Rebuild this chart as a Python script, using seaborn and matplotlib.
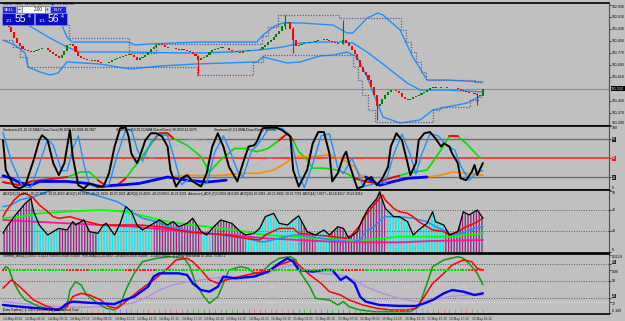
import matplotlib
matplotlib.use("Agg")
import matplotlib.pyplot as plt
from matplotlib.patches import Rectangle
import seaborn as sns

sns.set_theme(style="white")
plt.rcParams["font.family"] = ["Liberation Sans", "DejaVu Sans"]
plt.rcParams["hatch.linewidth"] = 0.9

BG = "#c0c0c0"
W, H = 625, 321
XMIN, XMAX = -1.075, 217.2

# ---------------- price panel data (USDJPY M15, one value per bar) ----------------
closes = [
    101.990, 101.970, 101.943, 101.910, 101.870, 101.836, 101.816, 101.796, 101.790, 101.783,
    101.776, 101.783, 101.790, 101.796, 101.803, 101.800, 101.790, 101.776, 101.763, 101.750,
    101.736, 101.756, 101.783, 101.823, 101.830, 101.816, 101.776, 101.750, 101.736, 101.730,
    101.723, 101.726, 101.716, 101.720, 101.710, 101.706, 101.703, 101.700, 101.710, 101.723,
    101.730, 101.736, 101.743, 101.750, 101.756, 101.763, 101.756, 101.743, 101.723, 101.736,
    101.743, 101.756, 101.776, 101.796, 101.810, 101.823, 101.830, 101.823, 101.810, 101.806,
    101.803, 101.800, 101.796, 101.790, 101.793, 101.788, 101.783, 101.776, 101.763, 101.750,
    101.723, 101.736, 101.743, 101.756, 101.776, 101.790, 101.796, 101.803, 101.810, 101.803,
    101.800, 101.790, 101.786, 101.783, 101.776, 101.773, 101.783, 101.786, 101.790, 101.788,
    101.791, 101.789, 101.796, 101.810, 101.823, 101.843, 101.856, 101.876, 101.896, 101.916,
    101.950, 101.970, 101.976, 101.930, 101.856, 101.816, 101.823, 101.830, 101.836, 101.838,
    101.843, 101.840, 101.850, 101.856, 101.858, 101.863, 101.856, 101.850, 101.843, 101.836,
    101.830, 101.828, 101.856, 101.836, 101.816, 101.790, 101.763, 101.723, 101.676, 101.643,
    101.623, 101.590, 101.543, 101.490, 101.416, 101.430, 101.463, 101.490, 101.510, 101.523,
    101.520, 101.516, 101.503, 101.476, 101.463, 101.456, 101.463, 101.476, 101.483, 101.490,
    101.503, 101.510, 101.523, 101.536, 101.543, 101.536, 101.538, 101.543, 101.541, 101.536,
    101.534, 101.537, 101.535, 101.530, 101.523, 101.516, 101.510, 101.503, 101.506, 101.496,
    101.490, 101.483, 101.532,
]
first_open = 102.010
wick_bars = [70, 101, 104, 122, 134, 170]
wick_highs = [101.756, 102.023, 101.943, 101.990, 101.490, 101.500]
wick_lows = [101.623, 101.930, 101.770, 101.830, 101.323, 101.423]
last_price = 101.532

bb_up_bars = [12.5, 16.8, 20.4, 22.9, 24.7, 34.8, 44.8, 47.3, 52.7, 70.6, 82.4, 91.0, 93.2,
              97.5, 100.4, 106.5, 118.3, 123.3, 125.4, 130.5, 134.4, 136.2, 142.3, 146.9,
              152.0, 159.1, 171.7]
bb_up = [102.223, 102.123, 101.990, 101.876, 101.843, 101.843, 101.843, 101.823, 101.830,
         101.843, 101.843, 101.843, 101.890, 101.950, 101.970, 101.970, 101.956, 101.903,
         101.903, 102.003, 102.036, 102.023, 101.923, 101.743, 101.590, 101.590, 101.576]
bb_mid_bars = [0, 4.3, 9.0, 16.8, 22.9, 27.6, 45.5, 63.4, 70.6, 81.4, 92.1, 100.4, 106.5,
               113.6, 121.9, 125.4, 130.5, 137.6, 144.8, 149.5, 159.1, 171.7]
bb_mid = [102.003, 101.976, 101.956, 101.870, 101.810, 101.776, 101.776, 101.770, 101.770,
          101.776, 101.790, 101.810, 101.836, 101.843, 101.843, 101.836, 101.776, 101.676,
          101.570, 101.523, 101.523, 101.510]
bb_lo_bars = [0, 4.3, 7.9, 9.0, 13.3, 16.8, 19.7, 22.9, 34.8, 45.5, 56.3, 68.8, 91.0, 93.2,
              101.8, 106.5, 113.6, 118.3, 123.3, 126.9, 130.5, 134.1, 136.2, 142.3, 149.5,
              154.1, 159.1, 166.3, 171.7]
bb_lo = [101.856, 101.823, 101.770, 101.676, 101.643, 101.623, 101.636, 101.710, 101.696,
         101.663, 101.683, 101.696, 101.710, 101.743, 101.703, 101.710, 101.750, 101.756,
         101.776, 101.743, 101.610, 101.436, 101.343, 101.303, 101.323, 101.390, 101.410,
         101.436, 101.490]

dc_up_bars = [20.4, 23.7, 45.2, 54.8, 92.8, 95.0, 98.6, 120.4, 142.7, 144.4, 146.2, 148.0,
              149.9, 151.6, 169.2, 172.0]
dc_up = [101.956, 101.870, 101.770, 101.830, 101.883, 101.943, 102.023, 102.003, 101.923,
         101.843, 101.776, 101.710, 101.643, 101.590, 101.576, 101.576]
dc_lo_bars = [0, 3.6, 6.1, 8.6, 69.5, 89.6, 93.2, 125.4, 127.2, 128.7, 130.8, 133.3, 154.1,
              156.6, 167.4, 170.3, 172.0]
dc_lo = [101.856, 101.810, 101.743, 101.676, 101.623, 101.710, 101.756, 101.676, 101.590,
         101.490, 101.390, 101.310, 101.390, 101.410, 101.456, 101.476, 101.476]

price_ticks = [102.090, 102.010, 101.930, 101.850, 101.770, 101.690, 101.610,
               101.450, 101.370, 101.290]

# ---------------- stochastic panel ----------------
stf_bars = [0, 1, 4, 6, 8, 11, 13, 14, 16, 18, 20, 22, 23, 24, 25, 27, 29, 31, 34, 36, 38,
            40, 42, 44, 45, 46, 48, 49, 51, 53, 55, 57, 59, 60, 62, 64, 66, 68, 71, 73, 75,
            77, 78, 79, 81, 84, 86, 88, 90, 91, 93, 96, 98, 100, 103, 104, 106, 109, 111,
            113, 115, 117, 118, 120, 122, 123, 124, 126, 127, 129, 130, 132, 134, 136, 138,
            139, 141, 143, 145, 146, 148, 149, 151, 153, 155, 157, 158, 160, 161, 163, 164,
            166, 168, 169, 170, 172]
stf = [78, 31, 5, 2, 7, 47, 78, 86, 78, 42, 23, 42, 68, 94, 52, 7, 2, 10, 5, 5, 26, 68, 97,
       98, 84, 57, 42, 52, 78, 89, 89, 84, 68, 31, 5, 18, 23, 13, 5, 26, 68, 89, 78, 68, 36,
       13, 42, 68, 70, 76, 97, 98, 98, 94, 84, 31, 5, 31, 73, 91, 91, 57, 13, 26, 52, 60,
       42, 15, 2, 5, 15, 20, 7, 18, 36, 68, 89, 78, 42, 23, 42, 78, 89, 91, 81, 68, 73, 68,
       57, 42, 18, 15, 28, 39, 23, 42]
sts_bars = [0, 3, 7, 10, 13, 16, 18, 21, 23, 25, 27, 29, 31, 34, 38, 41, 44, 46, 48, 50, 53,
            56, 59, 62, 64, 67, 70, 73, 76, 79, 81, 84, 86, 89, 92, 95, 100, 103, 106, 108,
            111, 114, 117, 120, 122, 125, 127, 129, 132, 135, 137, 140, 143, 146, 148, 150,
            153, 156, 159, 162, 164, 167, 170, 172]
sts = [90, 45, 5, 3, 40, 80, 70, 30, 30, 65, 85, 40, 8, 3, 8, 55, 95, 95, 65, 45, 75, 88,
       85, 40, 8, 18, 8, 10, 60, 85, 65, 30, 20, 60, 75, 95, 97, 85, 25, 3, 40, 85, 88, 35,
       25, 50, 30, 5, 8, 12, 10, 55, 88, 55, 25, 55, 88, 85, 70, 62, 38, 15, 28, 30]
slow_bars = [0, 6, 10, 23, 28, 31, 34, 37, 41, 44, 49, 54, 56, 59, 61, 66, 71, 74, 78, 83,
             87, 91, 95, 99, 102, 104, 106, 109, 111, 115, 120, 123, 126, 130, 134, 137,
             142, 145, 152, 157, 160, 163, 166, 171]
slow = [12, 7, 13, 20, 28, 28, 15, 6, 7, 18, 47, 78, 89, 89, 81, 70, 52, 28, 47, 65, 65,
        60, 65, 78, 89, 78, 60, 47, 34, 34, 31, 26, 18, 13, 10, 16, 22, 26, 31, 63, 84, 84,
        73, 50]
slow_red = [(0, 23), (34, 44), (54, 61), (99, 104), (126, 142), (160, 163)]
orange_a_bars = [59, 66, 73, 80, 85, 92, 97, 102, 104, 111, 117, 122, 126, 128, 130]
orange_a = [20, 23, 22, 23, 26, 26, 31, 44, 52, 52, 55, 47, 36, 23, 20]
orange_b_bars = [152, 157, 161, 166, 172]
orange_b = [20, 23, 28, 26, 23]
dblue_a_bars = [0, 3, 6, 10, 13, 18, 23, 30, 35, 40, 44, 49, 54, 59, 66, 73, 80]
dblue_a = [22, 18, 11, 7, 13, 13, 13, 10, 5, 7, 8, 10, 15, 20, 15, 12, 15]
dblue_b_bars = [130, 135, 140, 145, 152]
dblue_b = [20, 7, 13, 18, 20]
sdot_bars = [0, 11, 23, 35, 47, 56, 66, 71, 78, 85, 92, 99, 106, 111, 116, 121, 125, 130,
             136, 142, 147, 152, 157, 161, 166, 172]
sdot = [22, 10, 13, 18, 36, 57, 78, 81, 65, 31, 42, 57, 76, 73, 52, 36, 31, 23, 18, 20, 26,
        34, 52, 68, 76, 68]

# ---------------- ADX panel ----------------
adx_bars = [0, 1, 4, 6, 8, 10, 11, 13, 16, 18, 20, 23, 25, 26, 29, 31, 34, 36, 37, 40, 42,
            44, 46, 48, 50, 54, 56, 59, 61, 63, 66, 68, 71, 73, 75, 78, 80, 82, 85, 87, 90,
            92, 94, 97, 99, 102, 104, 106, 109, 112, 115, 117, 120, 122, 124, 127, 129, 131,
            134, 135, 137, 140, 142, 145, 147, 149, 152, 154, 155, 158, 160, 163, 165, 167,
            170, 172]
adx = [17.8, 22.5, 33.6, 40, 46.3, 51, 38.4, 25.7, 16.2, 19.4, 22.5, 21, 28.9, 25.7, 30.5,
       19.4, 17.8, 25.7, 27.3, 16.2, 27.3, 43.2, 38.4, 25.7, 21, 27.3, 30.5, 25.7, 28.9,
       24.1, 27.3, 32.1, 19.4, 16.2, 22.5, 30.5, 28.9, 27.3, 19.4, 16.2, 17.8, 22.5, 33.6,
       36.8, 27.3, 25.7, 30.5, 34.4, 19.4, 16.2, 21, 16.2, 24.1, 22.5, 13, 19.4, 32.1, 41.6,
       51, 57.4, 41.6, 33.6, 33.6, 28.9, 16.2, 21, 27.3, 38.4, 28.9, 25.7, 16.2, 19.4, 38.4,
       35.2, 40, 32.1]
hist_magenta = [(0, 11), (20, 34), (54, 71), (75, 87), (106, 112), (117, 137), (158, 172)]
adx_red_bars = [0, 1, 4, 6, 8, 11, 13, 16, 18, 20, 24, 28, 30, 35, 44, 49, 56, 66, 73, 80,
                87, 92, 94, 99, 104, 106, 112, 118, 123, 125, 128, 130, 133, 136, 137, 140,
                142, 145, 147, 149, 152, 154, 158, 160, 163, 166, 169, 172]
adx_red = [33.6, 38.4, 49.5, 54.3, 55.9, 51.1, 44.8, 38.4, 33.6, 32.1, 33.6, 30.5, 28.9,
           25.7, 25.7, 25.7, 24.1, 19.4, 17.8, 16.2, 13, 11.4, 16.2, 22.5, 22.5, 17.8, 16.2,
           14.6, 13, 16.2, 25.7, 35.2, 44.8, 54.3, 49.5, 41.6, 38.4, 36.8, 33.6, 28.9, 24.1,
           21, 19.4, 16.2, 19.4, 24.1, 27.3, 32.1]
adx_blue_bars = [0, 3, 6, 11, 16, 20, 23, 29, 35, 41, 44, 47, 50, 55, 59, 63, 68, 73, 78,
                 82, 87, 92, 94, 99, 104, 106, 118, 125, 128, 130, 133, 136, 137, 142, 147,
                 152, 155, 159, 161, 164, 166, 169, 172]
adx_blue = [43.2, 44.8, 49.5, 52.7, 57.4, 60.6, 62, 57.4, 52.7, 47.9, 43.2, 36.8, 32.1,
            28.9, 24.1, 22.5, 19.4, 17.8, 16.2, 14.6, 13, 9.8, 9.8, 13, 16.2, 16.2, 11.4,
            9.8, 11.4, 19.4, 24.1, 32.1, 33.6, 33.6, 32.1, 28.9, 24.1, 19.4, 16.2, 17.8,
            19.4, 22.5, 24.1]
adx_green_bars = [0, 6, 13, 23, 35, 44, 49, 59, 68, 78, 87, 94, 104, 113, 124, 130, 136,
                  142, 148, 154, 160, 166, 172]
adx_green = [32.1, 33.6, 36.8, 38.4, 40, 38.4, 35.2, 28.9, 25.7, 22.5, 19.4, 16.2, 14.6, 13,
             11.4, 11.4, 13, 14.6, 14.6, 14.6, 14.6, 16.2, 17.8]
adx_pink_bars = [0, 11, 23, 35, 47, 59, 71, 82, 94, 106, 118, 130, 142, 154, 172]
adx_pink = [30.5, 28.9, 27.3, 25.7, 24.1, 21, 17.8, 16.2, 13, 11.4, 9.8, 9.2, 9.2, 10.5, 11.4]

# ---------------- bottom panel ----------------
vg_bars = [0, 1, 2, 4, 6, 8, 13, 18, 22, 23, 24, 26, 28, 30, 34, 37, 40, 42, 44, 47, 50,
           55, 60, 65, 67, 69, 72, 74, 77, 79, 81, 85, 88, 90, 93, 96, 99, 103, 105, 106,
           110, 112, 117, 120, 122, 124, 128, 133, 140, 146, 149, 152, 154, 158, 163, 165,
           167, 170, 172]
vg = [69.3, 75.1, 72.2, 45.8, 28.2, 16.4, 4.6, -1.2, -1.2, 7.6, 34, 48.7, 42.9, 25.2, 10.5,
      1.7, -1.2, 7.6, 34, 63.4, 84, 89.9, 92.8, 89.9, 75.1, 45.8, 22.3, 10.5, 22.3, 45.8,
      69.3, 75.1, 72.2, 63.4, 66.4, 81.1, 89.9, 92.8, 87, 69.3, 39.9, 19.3, 16.4, 7.6, 13.5,
      4.6, -1.2, -4.2, -4.2, -4.2, 4.6, 45.8, 75.1, 87, 92.8, 89.9, 81.1, 63.4, 43.3]
vr_bars = [0, 3, 6, 11, 16, 19, 23, 25, 28, 31, 35, 38, 41, 44, 49, 54, 59, 62, 66, 68, 71,
           74, 77, 80, 85, 90, 95, 99, 104, 106, 110, 114, 117, 121, 124, 129, 134, 139,
           145, 148, 151, 154, 158, 161, 165, 168, 170, 172]
vr = [37, 51.7, 39.9, 16.4, 4.6, 0, 4.6, 22.3, 28.2, 25.2, 16.4, 4.6, 1.7, 13.5, 34, 51.7,
      72.2, 87, 89.9, 84, 69.3, 51.7, 45.8, 51.7, 57.6, 63.4, 66.4, 78.1, 87, 78.1, 60.5,
      45.8, 31.1, 25.2, 16.4, 7.6, 1.7, -1.2, -1.2, 1.7, 22.3, 45.8, 63.4, 78.1, 87, 84,
      72.2, 69.3]
vb_bars = [0, 6, 13, 20, 23, 25, 30, 35, 40, 42, 47, 52, 54, 56, 63, 66, 68, 71, 74, 77, 79,
           83, 90, 95, 99, 102, 104, 106, 111, 115, 118, 120, 121, 123, 126, 128, 130, 135,
           142, 148, 151, 154, 158, 161, 165, 169, 172]
vb = [7.6, 4.6, 1.7, -1.2, 10.5, 13.5, 11.7, 10.5, 9.3, 13.5, 22.3, 39.9, 57.6, 63.4, 63.4,
      60.5, 45.8, 34, 31.1, 39.9, 57.6, 54.6, 57.6, 66.4, 81.1, 89.9, 84, 69.3, 66.4, 69.3,
      69.3, 57.6, 51.7, 57.6, 45.8, 22.3, 13.5, 7.6, 5.9, 5.9, 10.5, 16.4, 28.2, 34, 31.1,
      25.2, 28.2]
vp_bars = [0, 6, 13, 20, 28, 35, 42, 47, 52, 56, 61, 66, 71, 75, 80, 85, 90, 95, 99, 104,
           109, 114, 121, 126, 130, 136, 142, 148, 154, 160, 166, 172]
vp = [13.5, 10.5, 7.6, 4.6, 3.4, 4.6, 7.6, 11.7, 22.3, 34, 42.9, 48.7, 51.7, 54.6, 57.6,
      57.6, 60.5, 63.4, 72.2, 78.1, 69.3, 63.4, 60.5, 51.7, 39.9, 28.2, 19.3, 13.5, 16.4,
      22.3, 25.2, 25.2]
signal_level = 69
signal_red = [(0, 1), (23, 30), (44, 54), (90, 95), (122, 129), (167, 172)]
tick_colors = [(0, 37, "#d88a8a"), (38, 44, "#8a8ae8"), (45, 65, "#e07a7a"),
               (66, 89, "#5ab85a"), (90, 98, "#e07a7a"), (99, 103, "#d88ad8"),
               (104, 145, "#5ab85a"), (146, 150, "#7aa0f0"), (151, 172, "#e88080")]

time_labels = ["14 May 2014", "14 May 03:15", "14 May 05:15", "14 May 07:15", "14 May 09:15",
               "14 May 11:15", "14 May 13:15", "14 May 15:15", "14 May 17:15", "14 May 19:15",
               "14 May 21:15", "14 May 23:15", "15 May 01:15", "15 May 03:15", "15 May 05:15",
               "15 May 07:15", "15 May 09:15", "15 May 11:15", "15 May 13:15", "15 May 15:15",
               "15 May 17:15", "15 May 19:15"]

TICK_FS = 2.5
TXT_FS = 2.3


# ---------------- helpers ----------------
def sline(ax, xs, ys, color, lw, ls="-", **kw):
    sns.lineplot(x=xs, y=ys, ax=ax, color=color, linewidth=lw, linestyle=ls,
                 estimator=None, sort=False, legend=False, **kw)


def sub(xs, ys, lo, hi):
    pts = [(x, y) for x, y in zip(xs, ys) if lo <= x <= hi]
    return [p[0] for p in pts], [p[1] for p in pts]


def style(ax, ylim):
    ax.set_facecolor(BG)
    ax.set_xlim(XMIN, XMAX)
    ax.set_ylim(*ylim)
    ax.set_xticks([])
    ax.set_xlabel("")
    ax.set_ylabel("")
    ax.yaxis.tick_right()
    ax.tick_params(axis="y", length=1.5, width=0.5, pad=0.6, labelsize=TICK_FS,
                   colors="black")
    ax.spines["left"].set_visible(False)
    for s in ["top", "bottom"]:
        ax.spines[s].set_color("black")
        ax.spines[s].set_linewidth(1.2)
    ax.spines["right"].set_color("#505050")
    ax.spines["right"].set_linewidth(0.8)


def set_ticks(ax, vals, labels, valign=None):
    ax.set_yticks(vals)
    ax.set_yticklabels(labels)
    labs = ax.get_yticklabels()
    for i, va in (valign or {}).items():
        labs[i].set_verticalalignment(va)
    return labs


def box_label(lab, fc):
    lab.set_color("white")
    lab.set_bbox(dict(facecolor=fc, edgecolor="none", pad=0.3))


fig = plt.figure(figsize=(6.25, 3.21), dpi=100, facecolor=BG)


def panel(y0, y1):
    return fig.add_axes([0, 1 - y1 / H, 609 / W, (y1 - y0) / H])


def frect(x0, y0, x1, y1, fc, ec):
    fig.add_artist(Rectangle((x0 / W, 1 - y1 / H), (x1 - x0) / W, (y1 - y0) / H,
                             transform=fig.transFigure, facecolor=fc, edgecolor=ec,
                             linewidth=0.6, zorder=10))


def ftext(x, y, s, **kw):
    fig.text(x / W, 1 - y / H, s, zorder=11, **kw)


ax_p = panel(3, 126)
ax_s = panel(126.3, 189.7)
ax_a = panel(190, 253)
ax_v = panel(254, 314)

# ---------------- price ----------------
bars = list(range(len(closes)))
opens = [first_open] + closes[:-1]
ccol = ["#008000" if c >= o else "#ff0000" for o, c in zip(opens, closes)]
bottoms = [min(o, c) for o, c in zip(opens, closes)]
heights = [max(abs(c - o), 0.0018) for o, c in zip(opens, closes)]
ax_p.axhline(last_price, color="#8c8c8c", lw=0.8, zorder=1)
sline(ax_p, bb_up_bars, bb_up, "#1e90ff", 1.0)
sline(ax_p, bb_mid_bars, bb_mid, "#1e90ff", 1.0)
sline(ax_p, bb_lo_bars, bb_lo, "#1e90ff", 1.0)
sline(ax_p, dc_up_bars, dc_up, "#5c5c96", 0.9, (0, (1, 1.2)), drawstyle="steps-post")
sline(ax_p, dc_lo_bars, dc_lo, "#5c5c96", 0.9, (0, (1, 1.2)), drawstyle="steps-post")
ax_p.vlines(wick_bars, wick_lows, wick_highs,
            colors=[ccol[b] for b in wick_bars], lw=0.8, zorder=3)
ax_p.bar(bars, heights, bottom=bottoms, width=0.75, color=ccol, linewidth=0, zorder=4)
style(ax_p, (101.283, 102.103))
set_ticks(ax_p, price_ticks, [f"{t:.3f}" for t in price_ticks], {0: "top", 9: "bottom"})
ax_p.text(1.0035, last_price, f"{last_price:.3f}", transform=ax_p.get_yaxis_transform(),
          fontsize=TICK_FS, color="white", va="center", ha="left",
          bbox=dict(facecolor="black", edgecolor="none", pad=0.4), clip_on=False)

# ---------------- stochastic ----------------
ax_s.axhline(80, color="#6e6e6e", lw=1.0)
ax_s.axhline(50, color="#ff2a2a", lw=1.2)
ax_s.axhline(20, color="#6e6e6e", lw=1.0)
sline(ax_s, sdot_bars, sdot, "#9ab4e4", 0.8, (0, (1, 1.2)))
sline(ax_s, slow_bars, slow, "#00e000", 1.2)
for lo, hi in slow_red:
    xs, ys = sub(slow_bars, slow, lo, hi)
    sline(ax_s, xs, ys, "#ff0000", 1.4)
sline(ax_s, orange_a_bars, orange_a, "#ff8c00", 1.2)
sline(ax_s, orange_b_bars, orange_b, "#ff8c00", 1.2)
sline(ax_s, dblue_a_bars, dblue_a, "#0000ff", 2.0)
sline(ax_s, dblue_b_bars, dblue_b, "#0000ff", 2.0)
sline(ax_s, sts_bars, sts, "#1e90ff", 1.0)
sline(ax_s, stf_bars, stf, "black", 1.4)
style(ax_s, (0, 100))
labs = set_ticks(ax_s, [100, 80, 50, 20, 0], ["100", "80", "50", "20", "0"],
                 {0: "top", 4: "bottom"})
box_label(labs[1], "#202020")
box_label(labs[2], "#e81818")
box_label(labs[3], "#202020")

# ---------------- ADX ----------------
with plt.rc_context({"hatch.color": "#00f0f0"}):
    ax_a.fill_between(adx_bars, adx, 0, facecolor="none", edgecolor="#00f0f0",
                      hatch="||||||", linewidth=0)
with plt.rc_context({"hatch.color": "#c0147c"}):
    for lo, hi in hist_magenta:
        xs, ys = sub(adx_bars, adx, lo, hi)
        ax_a.fill_between(xs, ys, 0, facecolor="none", edgecolor="#c0147c",
                          hatch="||||||", linewidth=0)
ax_a.axhline(40, color="#5a5a5a", lw=0.7, ls=(0, (1, 1.5)))
ax_a.axhline(20, color="#5a5a5a", lw=0.7, ls=(0, (1, 1.5)))
sline(ax_a, adx_pink_bars, adx_pink, "#ff1493", 1.3)
sline(ax_a, adx_green_bars, adx_green, "#00ff00", 1.3)
sline(ax_a, adx_blue_bars, adx_blue, "#1e90ff", 1.1)
sline(ax_a, adx_red_bars, adx_red, "#ff0000", 1.1)
sline(ax_a, adx_bars, adx, "black", 0.9)
style(ax_a, (-0.95, 59))
set_ticks(ax_a, [58, 40, 20, 0], ["58", "40", "20", "0"], {0: "top", 3: "bottom"})

# ---------------- bottom oscillators ----------------
for lvl in [80, 50, 20]:
    ax_v.axhline(lvl, color="#5a5a5a", lw=0.7, ls=(0, (1, 1.5)))
ax_v.axhline(12.8, color="#e4e4e4", lw=0.7, ls=(0, (1, 1.5)))
sline(ax_v, vp_bars, vp, "#b48ee6", 1.0)
sline(ax_v, vg_bars, vg, "#119a11", 1.1)
sline(ax_v, vr_bars, vr, "#ff0000", 1.1)
sline(ax_v, vb_bars, vb, "#0000ff", 1.7)
sig_col = []
for b in bars:
    red = any(lo <= b <= hi for lo, hi in signal_red)
    sig_col.append("#ff2020" if red else "#00e000")
for col in ["#00e000", "#ff2020"]:
    xs = [b for b, c in zip(bars, sig_col) if c == col]
    sns.scatterplot(x=xs, y=[signal_level] * len(xs), ax=ax_v, color=col, marker="s",
                    s=2.4, linewidth=0, legend=False, zorder=5)
for lo, hi, col in tick_colors:
    tb = [b for b in range(lo, hi + 1) if b % 2 == 0]
    ax_v.vlines(tb, -6.8, 1.2, colors=col, lw=0.7)
style(ax_v, (-8.3, 97.5))
labs = set_ticks(ax_v, [96, 80, 70, 50, 20, 12.8, -6.5],
                 ["0.1124", "80", "0.00", "50", "20", "12", "-0.109"],
                 {0: "top", 1: "bottom", 2: "top", 4: "bottom", 5: "top", 6: "bottom"})
box_label(labs[1], "#303030")
box_label(labs[4], "#303030")
for k, lab in enumerate(time_labels):
    ax_v.text(8 * k, -0.05, lab, transform=ax_v.get_xaxis_transform(), fontsize=TXT_FS,
              ha="left", va="top", clip_on=False)

# ---------------- header texts ----------------
hdr = dict(fontsize=TXT_FS, color="black", ha="left", va="center")
ftext(3, 4, "USDJPY,M15  101.540 101.579 101.526 101.532", **hdr)
ftext(3, 130.5, "Stochastic(21,10,10,SMA,Close/Close) 80.0000 49.2094 48.3307", **hdr)
ftext(116, 130.5, "Stochastic(50,20,20,SMA,Close/Close) 28.3059 41.5079", **hdr)
ftext(214, 130.5, "Stochastic(5,3,3,SMA,Close/Close) 80.0000", **hdr)
ftext(3, 193.5, "ADX(21) 23.4404 +DI:27.1025 -DI:21.4650  ADX(7) 46.6180 +DI:21.1920 "
      "-DI:27.1021  ADX(4) 23.4630 +DI:23.0054 -DI:21.0201  Advanced_ADX (7) 0.0000 46.6180  "
      "ADX(49) 10.2949 +DI:21.8882 -DI:21.7782  ADX(44) 7.8977 +DI:18.4317 -DI:21.0312", **hdr)
ftext(3, 256.5, "Vomma_dsst(1) 0.0000 -0.0133 0.0000 0.0000 0.0000   RSIOMA(14) 26.0682 "
      "-10.0000 0.0000 0.0000   2.0000 0.0000   D Delay Stochastic 47.3831 75.8671", **hdr)
ftext(3, 310.5, "Data Traders | 1: 2051  2CFs Lamp | Confirmed Conf", **hdr)

# ---------------- one-click trading panel ----------------
frect(2, 6, 16, 13, "#2626d6", "#a8a8ff")
ftext(9, 9.6, "SELL", fontsize=3.2, color="white", ha="center", va="center")
frect(17, 6, 22, 13, "#dcdcdc", "#808080")
ftext(19.5, 9.4, "\u2212", fontsize=3.4, color="black", ha="center", va="center")
frect(22, 6, 45, 13, "white", "#808080")
ftext(43, 9.6, "2.00", fontsize=3.3, color="black", ha="right", va="center")
frect(45, 6, 50, 13, "#dcdcdc", "#808080")
ftext(47.5, 9.4, "+", fontsize=3.4, color="black", ha="center", va="center")
frect(50, 6, 66, 13, "#2626d6", "#a8a8ff")
ftext(58, 9.6, "BUY", fontsize=3.2, color="white", ha="center", va="center")
for x0, big in [(2, "55"), (35, "56")]:
    frect(x0, 13.5, x0 + 32, 24.5, "#0b0bbe", "#8080ff")
    ftext(x0 + 3.5, 20.5, "101.", fontsize=2.8, color="white", ha="left", va="center")
    ftext(x0 + 12.5, 19.2, big, fontsize=7.5, color="white", ha="left", va="center")
    ftext(x0 + 25.5, 16.2, "4", fontsize=3.8, color="white", ha="left", va="center")

fig.savefig("out.png", dpi=100, facecolor=BG)
